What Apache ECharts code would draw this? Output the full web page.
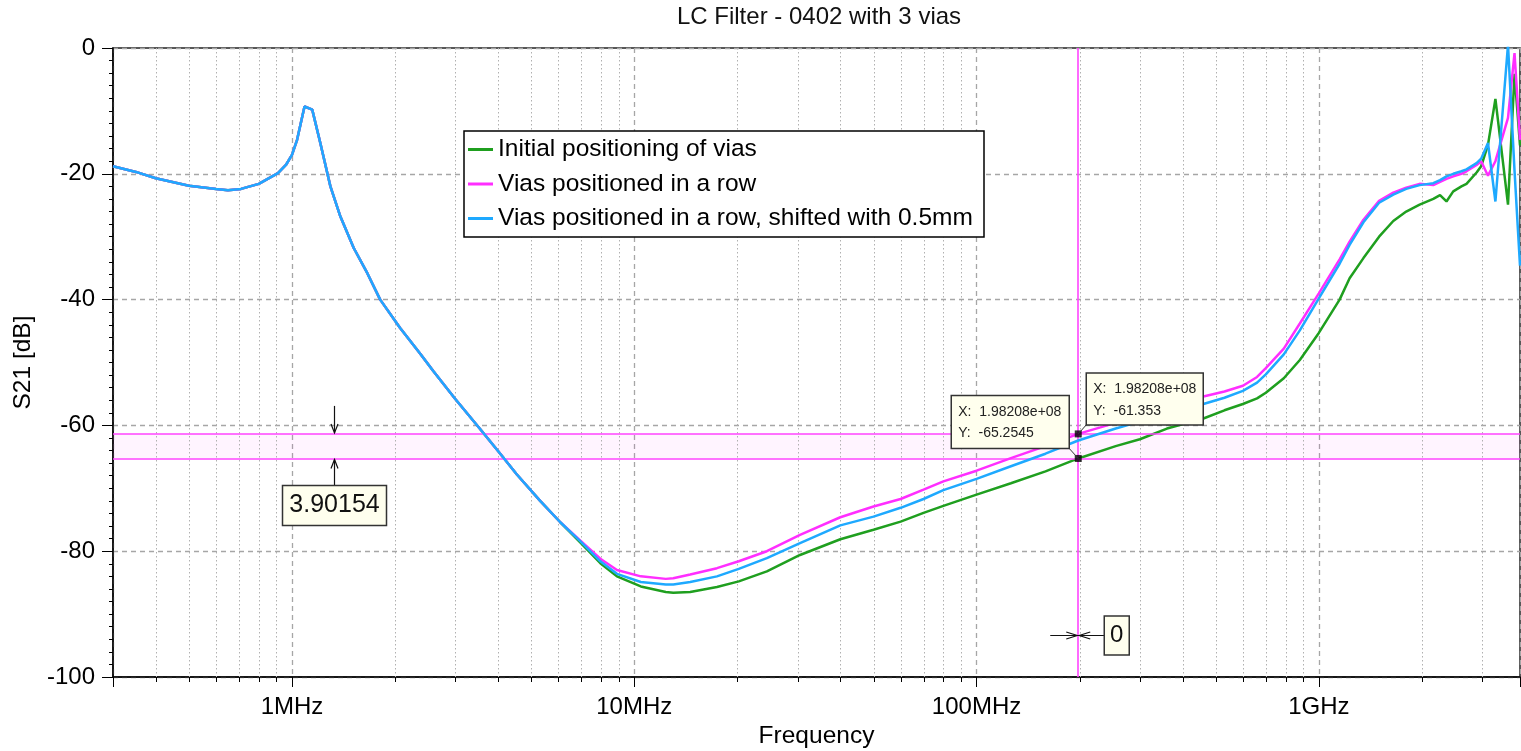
<!DOCTYPE html>
<html>
<head>
<meta charset="utf-8">
<title>LC Filter - 0402 with 3 vias</title>
<script src="https://cdn.jsdelivr.net/npm/echarts@6/dist/echarts.min.js"></script>
<style>
  html, body { margin: 0; padding: 0; background: #ffffff; }
  #chart { width: 1521px; height: 751px; }
</style>
</head>
<body>
<div id="chart"></div>
<script>
// Sweep frequencies (Hz)
const freqHz = [
  3.0e5, 3.5e5, 4.0e5, 5.0e5, 6.0e5, 6.5e5, 7.1e5, 8.0e5, 9.1e5, 9.6e5,
  1.0e6, 1.035e6, 1.088e6, 1.146e6, 1.21e6, 1.295e6, 1.385e6, 1.515e6, 1.66e6, 1.81e6,
  2.07e6, 2.37e6, 2.59e6, 3.0e6, 3.55e6, 4.06e6, 4.54e6, 5.31e6, 6.08e6, 6.95e6,
  7.96e6, 8.9e6, 1.045e7, 1.236e7, 1.30e7, 1.457e7, 1.744e7, 2.02e7, 2.44e7, 3.05e7,
  4.0e7, 5.0e7, 6.0e7, 7.0e7, 8.0e7, 1.0e8, 1.26e8, 1.59e8, 1.98208e8, 2.55e8,
  3.0e8, 3.6e8, 4.6e8, 5.3e8, 6.0e8, 6.6e8, 7.0e8, 7.9e8, 8.8e8, 1.0e9,
  1.15e9, 1.23e9, 1.35e9, 1.5e9, 1.65e9, 1.8e9, 1.97e9, 2.16e9, 2.26e9, 2.36e9,
  2.47e9, 2.61e9, 2.70e9, 2.89e9, 2.98e9, 3.12e9, 3.28e9, 3.57e9, 3.73e9, 3.87e9
];

// S21 [dB] per via arrangement
const initialVias = [
  -18.8, -19.7, -20.7, -21.9, -22.4, -22.6, -22.4, -21.6, -19.9, -18.6,
  -17.0, -14.6, -9.3, -9.8, -15.1, -22.0, -26.8, -31.8, -35.8, -40.0,
  -44.5, -48.6, -51.4, -55.8, -60.6, -64.5, -67.8, -72.0, -75.4, -78.6,
  -81.9, -84.0, -85.6, -86.5, -86.6, -86.5, -85.7, -84.8, -83.2, -80.6,
  -78.1, -76.6, -75.3, -73.9, -72.8, -71.0, -69.2, -67.3, -65.2545, -63.3,
  -62.2, -60.5, -58.9, -57.6, -56.6, -55.7, -54.8, -52.5, -49.6, -45.3,
  -40.0, -36.6, -33.4, -30.0, -27.5, -26.0, -24.9, -24.0, -23.4, -24.4,
  -22.8, -22.0, -21.6, -19.8, -18.8, -15.4, -8.1, -24.9, -4.1, -15.5
];
const viasRow = [
  -18.8, -19.7, -20.7, -21.9, -22.4, -22.6, -22.4, -21.6, -19.9, -18.6,
  -17.0, -14.6, -9.3, -9.8, -15.1, -22.0, -26.8, -31.8, -35.8, -40.0,
  -44.5, -48.6, -51.4, -55.8, -60.6, -64.5, -67.8, -72.0, -75.4, -78.3,
  -81.2, -83.0, -84.0, -84.4, -84.3, -83.7, -82.7, -81.6, -80.0, -77.4,
  -74.6, -72.9, -71.7, -70.2, -68.9, -67.2, -65.2, -63.3, -61.353, -59.6,
  -58.5, -57.2, -55.4, -54.6, -53.7, -52.3, -50.9, -47.8, -43.8, -39.0,
  -33.6, -30.8, -27.3, -24.3, -23.0, -22.2, -21.6, -21.8, -21.3, -20.8,
  -20.4, -20.0, -19.6, -18.6, -18.0, -20.3, -18.0, -11.1, -0.8, -14.6
];
const viasRowShifted = [
  -18.8, -19.7, -20.7, -21.9, -22.4, -22.6, -22.4, -21.6, -19.9, -18.6,
  -17.0, -14.6, -9.3, -9.8, -15.1, -22.0, -26.8, -31.8, -35.8, -40.0,
  -44.5, -48.6, -51.4, -55.8, -60.6, -64.5, -67.8, -72.0, -75.4, -78.4,
  -81.6, -83.6, -84.9, -85.3, -85.3, -84.9, -84.0, -82.8, -81.1, -78.7,
  -75.9, -74.5, -73.1, -71.7, -70.3, -68.5, -66.5, -64.5, -62.4, -60.5,
  -59.4, -58.2, -56.6, -55.6, -54.5, -53.2, -51.9, -48.7, -44.9, -39.8,
  -34.3, -31.3, -27.7, -24.6, -23.3, -22.4, -21.8, -21.5, -21.0, -20.4,
  -20.0, -19.6, -19.3, -18.3, -17.6, -15.1, -24.4, 0.5, -19.5, -34.6
];

const seriesNames = [
  'Initial positioning of vias',
  'Vias positioned in a row',
  'Vias positioned in a row, shifted with 0.5mm'
];
const seriesColors = ['#1f9f1f', '#ff2eff', '#1ea9ff'];

// Axis ticks and labels
const decadeTicks = [1e6, 1e7, 1e8, 1e9];
const decadeLabels = ['1MHz', '10MHz', '100MHz', '1GHz'];
const minorFreqs = [
  4e5, 5e5, 6e5, 7e5, 8e5, 9e5,
  2e6, 3e6, 4e6, 5e6, 6e6, 7e6, 8e6, 9e6,
  2e7, 3e7, 4e7, 5e7, 6e7, 7e7, 8e7, 9e7,
  2e8, 3e8, 4e8, 5e8, 6e8, 7e8, 8e8, 9e8,
  2e9, 3e9
];

// Cursor readouts
const markerFreq = 1.98208e8;
const markerLevels = [-61.353, -65.2545];   // row, initial
const deltaText = '3.90154';
const xDeltaText = '0';
const deltaArrowFreq = 1.33e6;
const xDeltaRowLevel = -93.3;

const FONT = "'Liberation Sans', Arial, Helvetica, sans-serif";

const chart = echarts.init(document.getElementById('chart'), null, { renderer: 'canvas' });

function decadeLabel(v) {
  const e = Math.log10(v);
  const k = Math.round(e);
  if (Math.abs(e - k) > 1e-6) return '';
  const idx = decadeTicks.indexOf(Math.pow(10, k));
  return idx >= 0 ? decadeLabels[idx] : '';
}

const curveData = [initialVias, viasRow, viasRowShifted];
const lineSeries = curveData.map((vals, i) => ({
  name: seriesNames[i],
  type: 'line',
  data: freqHz.map((f, j) => [f, vals[j]]),
  showSymbol: false,
  symbol: 'none',
  clip: true,
  lineStyle: { color: seriesColors[i], width: 2.5 },
  itemStyle: { color: seriesColors[i] },
  z: 4 + i,
  silent: true
}));

const option = {
  animation: false,
  backgroundColor: '#ffffff',
  textStyle: { fontFamily: FONT },
  grid: {
    left: 113, right: 1, top: 48, bottom: 74,
    outerBoundsMode: 'none',
    containLabel: false,
    show: true, borderColor: '#222', borderWidth: 1.5, backgroundColor: 'transparent'
  },
  legend: {
    data: seriesNames,
    orient: 'vertical',
    left: 464, top: 131,
    padding: [6, 4, 6, 4],
    itemGap: 9.5,
    itemWidth: 25, itemHeight: 3,
    icon: 'rect',
    backgroundColor: '#ffffff',
    borderColor: '#000000', borderWidth: 1.5,
    selectedMode: false,
    textStyle: { fontSize: 24.5, color: '#000', fontFamily: FONT, lineHeight: 24, width: 482 }
  },
  xAxis: {
    type: 'log', logBase: 10,
    min: 3e5, max: 3.87e9,
    name: 'Frequency', nameLocation: 'middle', nameGap: 47,
    nameTextStyle: { fontSize: 24.5, color: '#000', fontFamily: FONT },
    axisLine: { onZero: false, lineStyle: { color: '#000', width: 1.5 } },
    axisTick: { show: true, length: 10, lineStyle: { color: '#000', width: 1 } },
    axisLabel: { formatter: decadeLabel, fontSize: 24, color: '#000', margin: 18, fontFamily: FONT },
    splitLine: { show: true, lineStyle: { color: '#a6a6a6', width: 1.3, type: [5, 4] } }
  },
  yAxis: {
    type: 'value',
    min: -100, max: 0, interval: 20,
    name: 'S21 [dB]', nameLocation: 'middle', nameGap: 61, nameRotate: 90,
    nameTextStyle: { fontSize: 24.5, color: '#000', fontFamily: FONT },
    axisLine: { show: true, onZero: false, lineStyle: { color: '#000', width: 1.5 } },
    axisTick: { show: true, length: 11, lineStyle: { color: '#000', width: 1 } },
    minorTick: { show: true, splitNumber: 10, length: 4, lineStyle: { color: '#000', width: 1 } },
    axisLabel: { fontSize: 24, color: '#000', margin: 18, fontFamily: FONT },
    splitLine: { show: true, lineStyle: { color: '#a6a6a6', width: 1.3, type: [5, 4] } }
  },
  series: [
    {
      // dotted grid lines and small ticks at 2..9 of each decade
      type: 'custom',
      name: 'minorGrid',
      silent: true,
      z: 1,
      clip: false,
      data: minorFreqs.map(f => [f, -100]),
      encode: { x: 0, y: 1 },
      renderItem: function (params, api) {
        const f = api.value(0);
        const top = api.coord([f, 0]);
        const bot = api.coord([f, -100]);
        const x = Math.round(top[0]) + 0.5;
        return {
          type: 'group',
          children: [
            { type: 'line', shape: { x1: x, y1: top[1], x2: x, y2: bot[1] },
              style: { stroke: '#b0b0b0', lineWidth: 1, lineDash: [1.5, 2.5] } },
            { type: 'line', shape: { x1: x, y1: bot[1], x2: x, y2: bot[1] + 5 },
              style: { stroke: '#000', lineWidth: 1 } }
          ]
        };
      }
    },
    {
      // cursor lines and the band between the two levels
      type: 'scatter',
      name: 'cursorLines',
      data: markerLevels.map(v => [markerFreq, v]),
      symbolSize: 0,
      silent: true,
      z: 2,
      markArea: {
        silent: true,
        itemStyle: { color: 'rgba(255, 60, 255, 0.055)' },
        data: [[{ yAxis: markerLevels[0] }, { yAxis: markerLevels[1] }]]
      },
      markLine: {
        silent: true,
        symbol: ['none', 'none'],
        label: { show: false },
        lineStyle: { color: '#ff45ff', width: 1.6, type: 'solid' },
        data: [{ yAxis: markerLevels[0] }, { yAxis: markerLevels[1] }, { xAxis: markerFreq }]
      }
    },
    ...lineSeries,
    {
      type: 'scatter',
      name: 'cursorPoints',
      data: markerLevels.map(v => [markerFreq, v]),
      symbol: 'rect',
      symbolSize: 7,
      itemStyle: { color: '#000' },
      silent: true,
      z: 10
    }
  ]
};

chart.setOption(option);

// Annotations placed relative to the cursor positions
function px(f, db) { return chart.convertToPixel({ xAxisIndex: 0, yAxisIndex: 0 }, [f, db]); }
function expLabel(v) {
  const e = Math.floor(Math.log10(v));
  const m = (v / Math.pow(10, e)).toFixed(5);
  return m + 'e+' + String(e).padStart(2, '0');
}

const up = px(markerFreq, markerLevels[0]);
const lo = px(markerFreq, markerLevels[1]);
const boxFill = '#ffffee';
const boxStroke = '#333';
const readFont = '14px ' + FONT;

function readout(left, top, w, h, level) {
  return [
    { type: 'rect', shape: { x: left, y: top, width: w, height: h },
      style: { fill: boxFill, stroke: boxStroke, lineWidth: 1.5 }, z: 20 },
    { type: 'text', x: left + 7, y: top + 16.5,
      style: { text: 'X:  ' + expLabel(markerFreq), font: readFont, fill: '#222', verticalAlign: 'middle' }, z: 21 },
    { type: 'text', x: left + 7, y: top + 38,
      style: { text: 'Y:  ' + level, font: readFont, fill: '#222', verticalAlign: 'middle' }, z: 21 }
  ];
}

const graphics = [];

// title centred over the plot
graphics.push({
  type: 'text', x: 819, y: 17,
  style: { text: 'LC Filter - 0402 with 3 vias', font: '24px ' + FONT, fill: '#111', align: 'center', verticalAlign: 'middle' },
  z: 20
});

// readout for the lower cursor (initial positioning)
const loW = 118, loH = 53;
const loLeft = lo[0] - 9 - loW, loTop = lo[1] - 10 - loH;
graphics.push({ type: 'line', shape: { x1: loLeft + loW, y1: loTop + loH, x2: lo[0], y2: lo[1] },
  style: { stroke: '#333', lineWidth: 1 }, z: 19 });
graphics.push(...readout(loLeft, loTop, loW, loH, markerLevels[1]));

// readout for the upper cursor (vias in a row)
const upW = 117, upH = 52;
const upLeft = up[0] + 8, upTop = up[1] - 9 - upH;
graphics.push({ type: 'line', shape: { x1: upLeft, y1: upTop + upH, x2: up[0], y2: up[1] },
  style: { stroke: '#333', lineWidth: 1 }, z: 19 });
graphics.push(...readout(upLeft, upTop, upW, upH, markerLevels[0]));

// level difference arrows and label
const ax = Math.round(px(deltaArrowFreq, 0)[0]) + 0.5;
const arrowStyle = { stroke: '#111', lineWidth: 1.2, fill: 'none' };
graphics.push({ type: 'line', shape: { x1: ax, y1: up[1] - 28, x2: ax, y2: up[1] - 1 }, style: arrowStyle, z: 20 });
graphics.push({ type: 'polyline', shape: { points: [[ax - 3.5, up[1] - 10], [ax, up[1] - 1], [ax + 3.5, up[1] - 10]] }, style: arrowStyle, z: 20 });
graphics.push({ type: 'line', shape: { x1: ax, y1: lo[1] + 27, x2: ax, y2: lo[1] + 1 }, style: arrowStyle, z: 20 });
graphics.push({ type: 'polyline', shape: { points: [[ax - 3.5, lo[1] + 10], [ax, lo[1] + 1], [ax + 3.5, lo[1] + 10]] }, style: arrowStyle, z: 20 });
const dW = 104, dH = 40;
graphics.push({ type: 'rect', shape: { x: ax - dW / 2, y: lo[1] + 27, width: dW, height: dH },
  style: { fill: boxFill, stroke: boxStroke, lineWidth: 1.5 }, z: 20 });
graphics.push({ type: 'text', x: ax, y: lo[1] + 27 + dH / 2,
  style: { text: deltaText, font: '25px ' + FONT, fill: '#111', align: 'center', verticalAlign: 'middle' }, z: 21 });

// frequency difference arrows and label
const mx = up[0];
const ry = Math.round(px(markerFreq, xDeltaRowLevel)[1]) + 0.5;
graphics.push({ type: 'line', shape: { x1: mx - 28, y1: ry, x2: mx + 26, y2: ry }, style: arrowStyle, z: 20 });
graphics.push({ type: 'polyline', shape: { points: [[mx - 12, ry - 3.5], [mx - 1, ry], [mx - 12, ry + 3.5]] }, style: arrowStyle, z: 20 });
graphics.push({ type: 'polyline', shape: { points: [[mx + 12, ry - 3.5], [mx + 1, ry], [mx + 12, ry + 3.5]] }, style: arrowStyle, z: 20 });
const zW = 25, zH = 39;
graphics.push({ type: 'rect', shape: { x: mx + 26, y: ry - zH / 2, width: zW, height: zH },
  style: { fill: boxFill, stroke: boxStroke, lineWidth: 1.5 }, z: 20 });
graphics.push({ type: 'text', x: mx + 26 + zW / 2, y: ry,
  style: { text: xDeltaText, font: '24px ' + FONT, fill: '#111', align: 'center', verticalAlign: 'middle' }, z: 21 });

chart.setOption({ graphic: graphics });
</script>
</body>
</html>
